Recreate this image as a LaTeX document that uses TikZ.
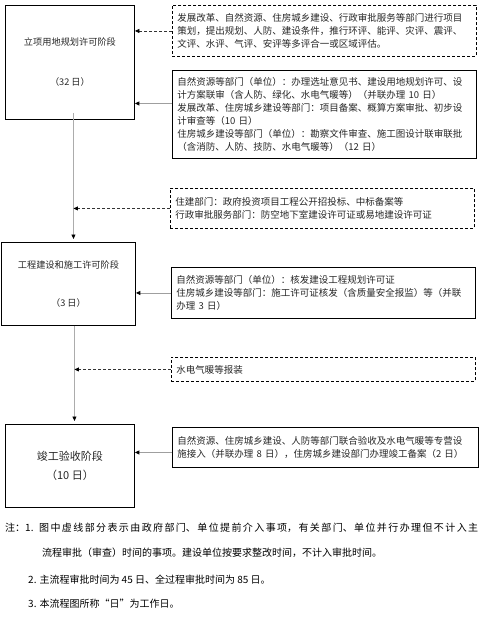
\documentclass[tikz,border=0pt]{standalone}
\usepackage{fontspec}
\setmainfont{Noto Sans CJK SC}
\usepackage{tikz}
\usetikzlibrary{arrows.meta,positioning,calc}
\usepackage{xcolor}

\begin{document}
\begin{tikzpicture}[x=1pt,y=-1pt,
    stage/.style={draw=black, line width=0.9pt, anchor=north west, align=center,
        inner sep=0pt, text=black!85},
    infobox/.style={draw=black, line width=0.9pt, anchor=north west, align=left,
        inner xsep=5pt, inner ysep=0pt, minimum width=304pt, text width=294pt,
        text=black!85, font=\fontsize{9.5}{13}\selectfont},
    earlybox/.style={infobox, dash pattern=on 3pt off 2pt},
    mainflow/.style={draw=gray!65, line width=0.9pt, shorten >=3pt,
        -{Triangle[length=4.5pt,width=4pt,color=black]}},
    parallel/.style={draw=gray!75, line width=0.9pt,
        -{Triangle[length=4.5pt,width=4pt,color=black]}},
    early/.style={draw=black!80, line width=0.8pt, dash pattern=on 3pt off 2pt,
        -{Triangle[length=4.5pt,width=4pt,color=black]}},
    note/.style={anchor=base west, inner sep=0pt, font=\fontsize{10}{12}\selectfont}]

    % page frame
    \useasboundingbox (0,0) rectangle (488,627);

    % main stages (left column)
    \node[stage, minimum width=129pt, minimum height=114pt, font=\fontsize{9.2}{12}\selectfont]
        (lixiang) at (5,5) {立项用地规划许可阶段\\[28pt]（32 日）};
    \node[stage, minimum width=134pt, minimum height=83pt, font=\fontsize{9.2}{12}\selectfont]
        (gongcheng) at (1,242) {工程建设和施工许可阶段\\[26pt]（3 日）};
    \node[stage, minimum width=129pt, minimum height=83pt, font=\fontsize{11}{13}\selectfont]
        (jungong) at (5,424) {竣工验收阶段\\[6pt]（10 日）};

    % dashed: early involvement, solid: parallel approval
    \node[earlybox, minimum height=51pt] (early1) at (172,5)
        {发展改革、自然资源、住房城乡建设、行政审批服务等部门进行项目\\
         策划，提出规划、人防、建设条件，推行环评、能评、灾评、震评、\\
         文评、水评、气评、安评等多评合一或区域评估。};
    \node[infobox, minimum height=88pt] (approval1) at (172,70)
        {自然资源等部门（单位）：办理选址意见书、建设用地规划许可、设\\
         计方案联审（含人防、绿化、水电气暖等）（并联办理 10 日）\\
         发展改革、住房城乡建设等部门：项目备案、概算方案审批、初步设\\
         计审查等（10 日）\\
         住房城乡建设等部门（单位）：勘察文件审查、施工图设计联审联批\\
         （含消防、人防、技防、水电气暖等）（12 日）};
    \node[earlybox, minimum height=40pt] (early2) at (170,188)
        {住建部门：政府投资项目工程公开招投标、中标备案等\\
         行政审批服务部门：防空地下室建设许可证或易地建设许可证};
    \node[infobox, minimum height=51pt] (approval2) at (171,267)
        {自然资源等部门（单位）：核发建设工程规划许可证\\
         住房城乡建设等部门：施工许可证核发（含质量安全报监）等（并联\\
         办理 3 日）};
    \node[earlybox, minimum height=24pt] (early3) at (171,357) {水电气暖等报装};
    \node[infobox, minimum width=306pt, text width=296pt, minimum height=40pt] (approval3) at (172,427)
        {自然资源、住房城乡建设、人防等部门联合验收及水电气暖等专营设\\
         施接入（并联办理 8 日），住房城乡建设部门办理竣工备案（2 日）};

    % trunk of the main flow
    \coordinate (trunkA) at ([xshift=3.5pt,yshift=7pt]lixiang.south);
    \coordinate (trunkB) at ([xshift=6pt]gongcheng.south);
    \draw[mainflow] (trunkA) -- (trunkA |- gongcheng.north);
    \draw[mainflow] (trunkB) -- (trunkB |- jungong.north);

    % side arrows
    \draw[early] (early1.west) -- (early1.west -| lixiang.east);
    \draw[parallel] ([yshift=11pt]approval1.west) -- ([yshift=11pt]approval1.west -| lixiang.east);
    \draw[early] (early2.west) -- (early2.west -| trunkA);
    \draw[parallel] (approval2.west) -- (approval2.west -| gongcheng.east);
    \draw[early] (early3.west) -- (early3.west -| trunkB);
    \draw[parallel] ([yshift=-5pt]approval3.west) -- ([yshift=-5pt]approval3.west -| jungong.east);

    % notes (first line justified to the full width)
    \node[note] (note1) at (5,531) {\makebox[34pt][l]{注：1.}\parbox[b]{439pt}{\XeTeXlinebreaklocale "zh"\XeTeXlinebreakskip=0pt plus 4pt\parfillskip=0pt
        图中虚线部分表示由政府部门、单位提前介入事项，有关部门、单位并行办理但不计入主\par}};
    \node[note] (note2) at (42,556) {流程审批（审查）时间的事项。建设单位按要求整改时间，不计入审批时间。};
    \node[note] (note3) at (28,583) {2. 主流程审批时间为 45 日、全过程审批时间为 85 日。};
    \node[note] (note4) at (28,607) {3. 本流程图所称“日”为工作日。};
\end{tikzpicture}
\end{document}
